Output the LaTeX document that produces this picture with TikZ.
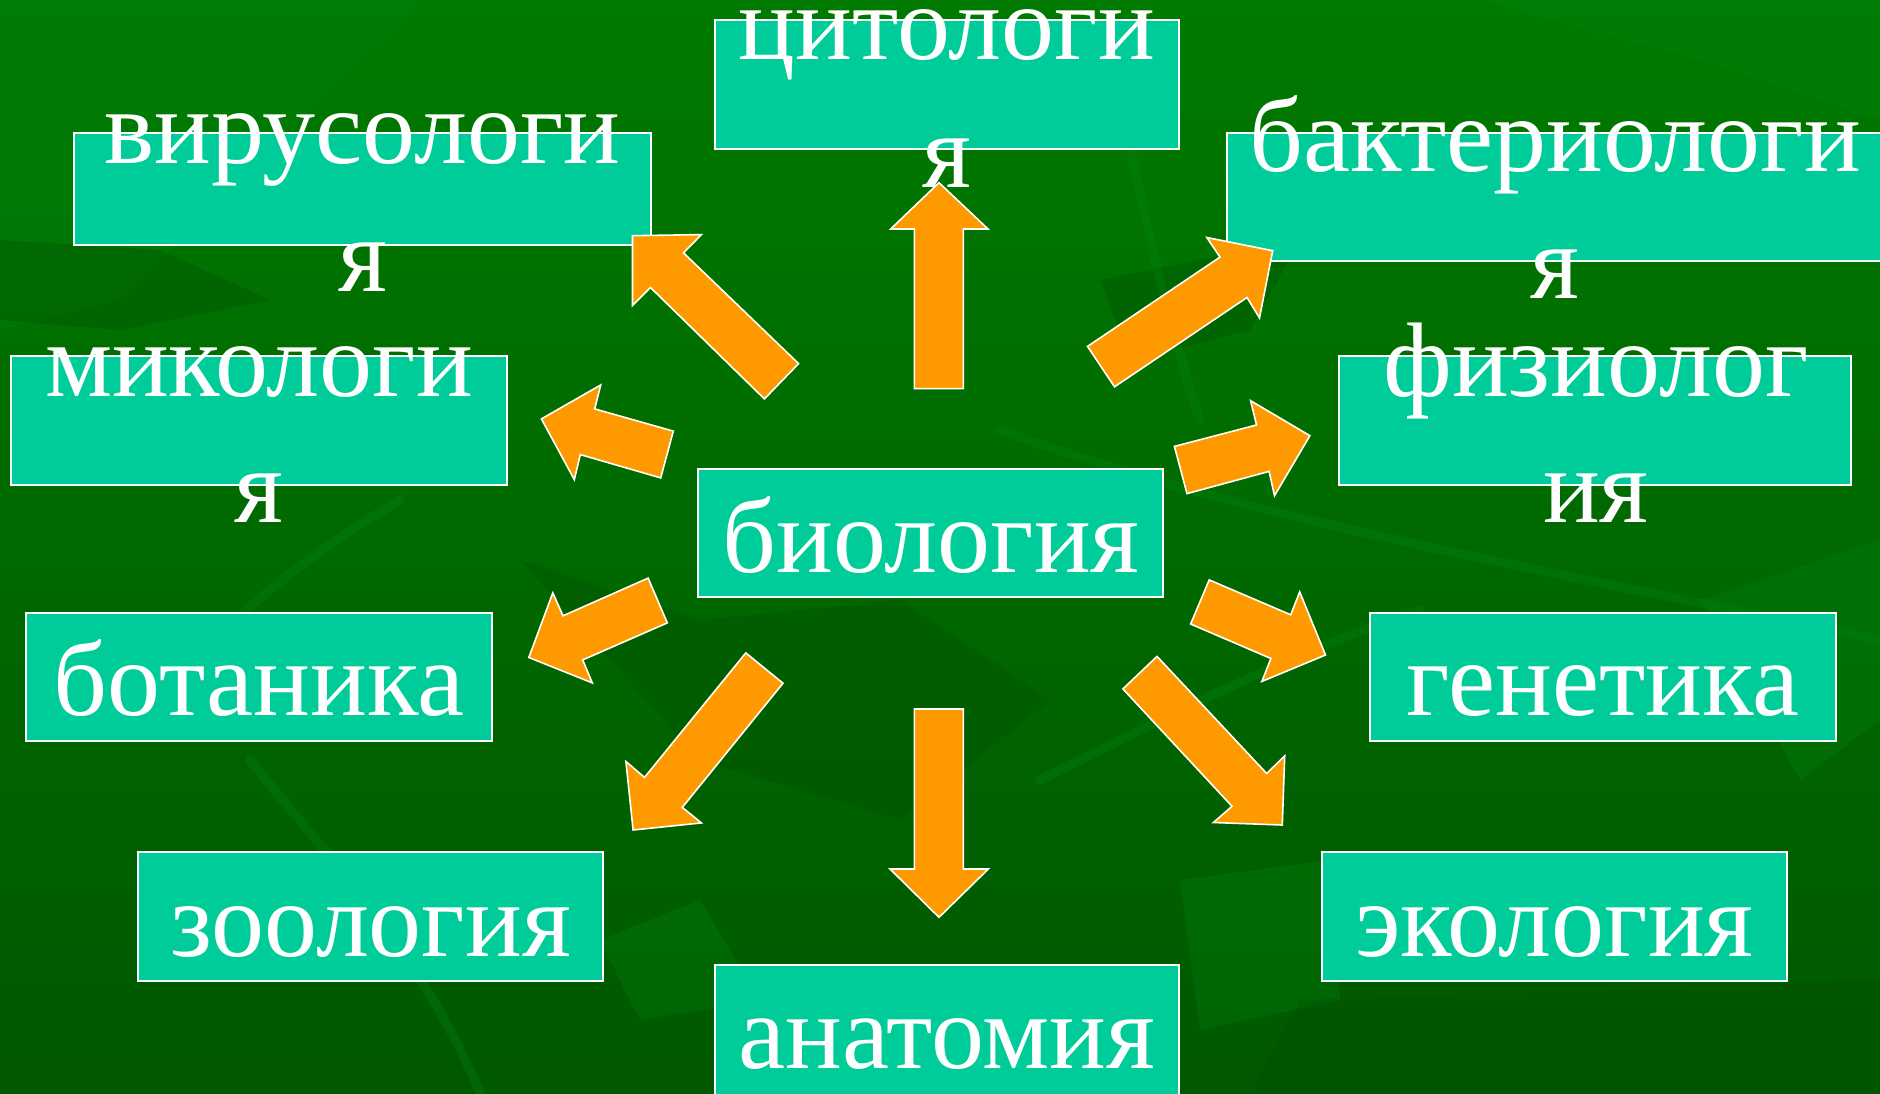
\documentclass[tikz,border=0pt]{standalone}
\usepackage{fontspec}
\setmainfont{Liberation Serif}
\definecolor{bgtop}{RGB}{0,122,0}
\definecolor{bgbot}{RGB}{0,88,0}
\definecolor{leaf}{RGB}{0,135,20}
\definecolor{leafdark}{RGB}{0,80,0}
\definecolor{boxgreen}{RGB}{0,204,153}
\definecolor{arrorange}{RGB}{255,153,0}
\begin{document}
\begin{tikzpicture}[x=1pt,y=-1pt,
  box/.style={draw=white, line width=2pt, fill=boxgreen, inner sep=0pt, rectangle},
  lbl/.style={text=white, font=\fontsize{106}{112}\selectfont, anchor=base, inner sep=0pt},
  blockarrow/.style={fill=arrorange, draw=white, line width=1.6pt, line join=miter},
  leafshape/.style={fill=leaf, opacity=0.28},
  darkshape/.style={fill=leafdark, opacity=0.35},
  stem/.style={draw=leaf, line width=9pt, opacity=0.3, line cap=round}]
\useasboundingbox (0,0) rectangle (1880,1093);
% background
\shade[top color=bgtop, bottom color=bgbot] (0,0) rectangle (1880,1093);
\fill[leafshape] (0,0) -- (420,0) -- (300,120) -- (120,300) -- (0,330) -- cycle;
\fill[leafshape] (1480,0) -- (1880,0) -- (1880,120) -- (1700,60) -- cycle;
\fill[darkshape] (0,240) -- (160,250) -- (270,300) -- (120,330) -- (0,320) -- cycle;
\fill[darkshape] (520,560) -- (700,620) -- (900,600) -- (1050,700) -- (900,820) -- (700,760) -- cycle;
\fill[darkshape] (1100,280) -- (1300,240) -- (1250,330) -- (1130,360) -- cycle;
\fill[leafshape] (1180,880) -- (1330,860) -- (1340,1000) -- (1200,1030) -- cycle;
\fill[leafshape] (600,940) -- (700,900) -- (760,1000) -- (640,1020) -- cycle;
\fill[leafshape] (1700,600) -- (1880,540) -- (1880,720) -- (1800,780) -- cycle;
\fill[darkshape] (1300,1000) -- (1880,980) -- (1880,1093) -- (1250,1093) -- cycle;
\draw[stem] (1000,430) .. controls (1250,520) and (1500,560) .. (1880,640);
\draw[stem] (150,720) .. controls (220,620) and (300,560) .. (400,500);
\draw[stem] (1100,0) .. controls (1130,150) and (1160,300) .. (1200,420);
\draw[stem] (1040,780) .. controls (1200,700) and (1300,650) .. (1420,610);
\draw[stem] (250,760) .. controls (330,860) and (420,950) .. (480,1093);

% boxes
\node[box, minimum width=464pt, minimum height=129pt] (cyto) at (947,84.5) {};
\node[box, minimum width=577pt, minimum height=112pt] (viro) at (362.5,189) {};
\node[box, minimum width=657pt, minimum height=128pt] (bact) at (1555.5,197) {};
\node[box, minimum width=496pt, minimum height=129pt] (myco) at (259,420.5) {};
\node[box, minimum width=512pt, minimum height=129pt] (phys) at (1595,420.5) {};
\node[box, minimum width=465pt, minimum height=128pt] (bio) at (930.5,533) {};
\node[box, minimum width=466pt, minimum height=128pt] (bot) at (259,677) {};
\node[box, minimum width=466pt, minimum height=128pt] (gen) at (1603,677) {};
\node[box, minimum width=465pt, minimum height=129pt] (zoo) at (370.5,916.5) {};
\node[box, minimum width=465pt, minimum height=129pt] (eco) at (1554.5,916.5) {};
\node[box, minimum width=464pt, minimum height=132pt] (anat) at (947,1031) {};

% labels
\node[lbl] (tcyto1) at (947,59) {цитологи};
\node[lbl] (tcyto2) at (947,187) {я};
\node[lbl] (tviro1) at (362.5,163) {вирусологи};
\node[lbl] (tviro2) at (362.5,291) {я};
\node[lbl] (tbact1) at (1555,171) {бактериологи};
\node[lbl] (tbact2) at (1555,298.5) {я};
\node[lbl] (tmyco1) at (259,396) {микологи};
\node[lbl] (tmyco2) at (259,522.5) {я};
\node[lbl] (tphys1) at (1596,396) {физиолог};
\node[lbl] (tphys2) at (1596,522.5) {ия};
\node[lbl] (tbio) at (931,572) {биология};
\node[lbl] (tbot) at (259,715) {ботаника};
\node[lbl] (tgen) at (1603,715) {генетика};
\node[lbl] (tzoo) at (370.5,956) {зоология};
\node[lbl] (teco) at (1554.5,956) {экология};
\node[lbl] (tanat) at (947,1068) {анатомия};

% block arrows
\filldraw[blockarrow] (939,182.7) -- (988,229) -- (963.3,229) -- (963.3,388.6) -- (914.3,388.6) -- (914.3,229) -- (890.7,229) -- cycle;
\filldraw[blockarrow] (939,917.3) -- (988.3,869) -- (963.3,869) -- (963.3,709) -- (914.3,709) -- (914.3,869) -- (890,869) -- cycle;
\filldraw[blockarrow] (632.5,235.7) -- (701.4,234.6) -- (683.5,252.9) -- (798.6,363.6) -- (764.4,398.9) -- (650.5,287.5) -- (632.5,305.4) -- cycle;
\filldraw[blockarrow] (541.4,418.9) -- (600.7,385) -- (594.7,408.9) -- (673.3,431.1) -- (660.7,477.9) -- (580.3,454.6) -- (574.3,479.6) -- cycle;
\filldraw[blockarrow] (1272.7,250.7) -- (1206.8,237.5) -- (1220,257.1) -- (1087.5,346.4) -- (1114.5,386.8) -- (1247,297.5) -- (1259.5,317.9) -- cycle;
\filldraw[blockarrow] (1309.9,435.7) -- (1250.6,400.7) -- (1256.5,425) -- (1174.4,446.4) -- (1187,493.6) -- (1269.1,471.4) -- (1274.5,495.7) -- cycle;
\filldraw[blockarrow] (528.8,657.5) -- (552.8,592.9) -- (563,615.8) -- (648.1,578.1) -- (667.3,622.9) -- (582.7,659.9) -- (592.3,682.9) -- cycle;
\filldraw[blockarrow] (633.1,830) -- (625.9,761.5) -- (644.5,777.4) -- (745.8,652.9) -- (783,683.2) -- (682.3,807.4) -- (701.4,822.9) -- cycle;
\filldraw[blockarrow] (1325.5,655) -- (1299.7,591.9) -- (1290.7,614.8) -- (1209.2,579.9) -- (1190.6,624) -- (1270.9,658.5) -- (1261.9,681.4) -- cycle;
\filldraw[blockarrow] (1282.3,825) -- (1284.7,755.9) -- (1266.7,773.5) -- (1157,656.4) -- (1122.9,688.9) -- (1232,806.3) -- (1213.4,822.5) -- cycle;
\end{tikzpicture}
\end{document}
